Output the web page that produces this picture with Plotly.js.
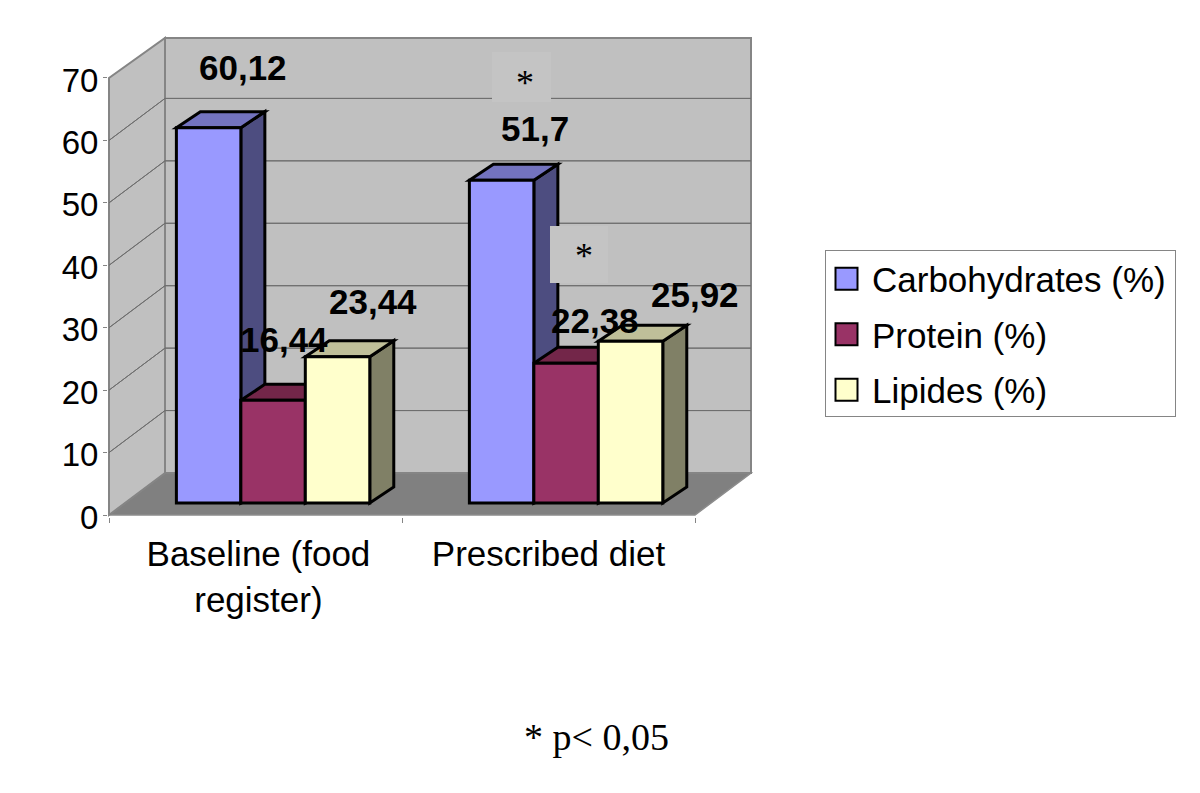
<!DOCTYPE html>
<html><head><meta charset="utf-8">
<script src="https://cdn.plot.ly/plotly-3.0.1.min.js"></script>
<style>html,body{margin:0;padding:0;background:#fff}</style></head>
<body><div id="chart" style="width:1200px;height:793px"></div>
<script>
const categories = ['Baseline (food<br>register)', 'Prescribed diet'];
const carbohydrates = [60.12, 51.7];
const protein = [16.44, 22.38];
const lipides = [23.44, 25.92];
const seriesNames = ['Carbohydrates (%)', 'Protein (%)', 'Lipides (%)'];
const labelTexts = [['60,12', '51,7'], ['16,44', '22,38'], ['23,44', '25,92']];
const yTicks = [0, 10, 20, 30, 40, 50, 60, 70];

// styles and layout
const frontColors = ['#9999FF', '#993366', '#FFFFCC'];
const topColors = ['#7373BF', '#732649', '#BFBF99'];
const sideColors = ['#4D4D80', '#4D1A33', '#808066'];
const labelShiftX = [[34.5, 33], [10.5, 29], [35, 64]];
const labelShiftY = [[60, 52], [61, 43], [55, 47]];
const pxX = 293, pxY = 6.243;          // pixels per category, pixels per unit
const wallDX = 56 / pxX, wallDY = 42 / pxY;
const floorDX = 0.56 - 0.5, floorDY = 12 / pxY;
const depthDX = 24 / pxX, depthDY = 16 / pxY;
const gap = 0.34, barW = (1 - gap) / 3;
const values = [carbohydrates, protein, lipides];
const nCat = categories.length;
const FONT = '"Liberation Sans", Arial, sans-serif';
const SERIF = '"Liberation Serif", "Times New Roman", serif';
const GREY = '#858585';
const plotL = 108, plotT = 34, plotW = 645, plotH = 483;
const paperX = p => (p - plotL) / plotW, paperY = p => 1 - (p - plotT) / plotH;

const poly = pts => 'M' + pts.map(p => p[0] + ',' + p[1]).join('L') + 'Z';
const shapes = [];
const addPoly = (pts, fill, color, w) => shapes.push({type:'path', xref:'x', yref:'y', layer:'below',
  path: poly(pts), fillcolor: fill, line:{color: color, width: w}});

// walls and floor
const wallTop = 70 + wallDY - 2 / pxY;
addPoly([[0,0],[wallDX,wallDY],[nCat+wallDX,wallDY],[nCat,0]], '#808080', '#8c8c8c', 1.5);
addPoly([[0,0],[wallDX,wallDY],[wallDX,wallTop],[0,70]], '#C0C0C0', GREY, 2);
addPoly([[wallDX,wallDY],[nCat+wallDX,wallDY],[nCat+wallDX,wallTop],[wallDX,wallTop]], '#C0C0C0', GREY, 2);
yTicks.slice(1, -1).forEach(v => {
  addPoly([[0,v],[wallDX,v+wallDY]], 'rgba(0,0,0,0)', '#6e6e6e', 1);
  addPoly([[wallDX,v+wallDY],[nCat+wallDX,v+wallDY]], 'rgba(0,0,0,0)', '#6e6e6e', 1);
});

// 3-D top and side of each bar, computed from its value
const barLeft = (s, c) => c + 0.5 + floorDX + (s - 1.5) * barW;
values.forEach((vals, s) => vals.forEach((v, c) => {
  const l = barLeft(s, c), r = l + barW, t = floorDY + v;
  addPoly([[r,t],[r+depthDX,t+depthDY],[r+depthDX,floorDY+depthDY],[r,floorDY]], sideColors[s], '#000', 3);
  addPoly([[l,t],[r,t],[r+depthDX,t+depthDY],[l+depthDX,t+depthDY]], topColors[s], '#000', 3);
}));

// light boxes behind the significance stars
const addBox = (x0, x1, y0, y1) => shapes.push({type:'rect', xref:'paper', yref:'paper', layer:'above',
  x0: paperX(x0), x1: paperX(x1), y0: paperY(y0), y1: paperY(y1), fillcolor:'#C4C4C4', line:{width:0}});
addBox(492, 551, 52, 102);
addBox(550, 608, 226, 283);

const traces = values.map((vals, s) => ({
  type:'bar', name: seriesNames[s], legendgroup: seriesNames[s],
  x: vals.map((_, c) => c + 0.5 + floorDX), y: vals, base: vals.map(() => floorDY),
  marker:{color: frontColors[s], line:{color:'#000', width:3}},
  hoverinfo:'name+y'
}));

const annotations = [];
values.forEach((vals, s) => vals.forEach((v, c) => annotations.push({
  xref:'x', yref:'y', x: barLeft(s, c) + barW / 2, y: floorDY + v,
  xshift: labelShiftX[s][c], yshift: labelShiftY[s][c], xanchor:'center', yanchor:'middle',
  text: labelTexts[s][c], showarrow:false, font:{family:FONT, size:35, color:'#000', weight:700}
})));
const star = (xp, yp) => ({xref:'paper', yref:'paper', x:paperX(xp), y:paperY(yp),
  xanchor:'center', yanchor:'middle', showarrow:false, text:'*', font:{family:SERIF, size:36, color:'#000'}});
annotations.push(star(524.5, 82.5), star(583.5, 255.5));
annotations.push({xref:'paper', yref:'paper', x:paperX(596.5), y:paperY(737), yanchor:'middle', xanchor:'center',
  showarrow:false, text:'* p&lt; 0,05', font:{family:SERIF, size:38, color:'#000'}});

const layout = {
  width:1200, height:793, autosize:false, paper_bgcolor:'#fff', plot_bgcolor:'rgba(0,0,0,0)',
  margin:{l:plotL, r:1200-plotL-plotW, t:plotT, b:793-plotT-plotH, pad:0},
  barmode:'group', bargap:gap, bargroupgap:0,
  font:{family:FONT, color:'#000'},
  xaxis:{range:[-1/pxX, nCat + wallDX + 2/pxX], showgrid:false, zeroline:false, showline:false,
    tickmode:'array', tickvals:[0.51, 1.5], ticktext: categories, ticks:'', tickangle:0,
    ticklabelstandoff:13, tickfont:{family:FONT, size:35, color:'#000'},
    minor:{tickmode:'array', tickvals:[0,1,2], ticks:'outside', ticklen:5, tickwidth:1, tickcolor:GREY, showgrid:false}},
  yaxis:{range:[-2/pxY, 481/pxY], showgrid:false, zeroline:false, showline:false,
    tickmode:'array', tickvals: yTicks, ticks:'outside', ticklen:4, tickwidth:1, tickcolor:GREY,
    ticklabelstandoff:-2, ticklabelshift:2, tickfont:{family:FONT, size:33, color:'#000'}},
  legend:{x:paperX(825), y:paperY(248.5), xanchor:'left', yanchor:'top', bgcolor:'#fff', bordercolor:GREY, borderwidth:1,
    font:{family:FONT, size:35, color:'#000'}, traceorder:'grouped', tracegroupgap:7, itemwidth:36},
  shapes, annotations, showlegend:true
};
Plotly.newPlot('chart', traces, layout, {displayModeBar:false, staticPlot:true}).then(() => {
  document.querySelectorAll('.legend .legendpoints path').forEach(p => {
    p.setAttribute('d', 'M8.5,11H-13.5V-11H8.5Z');
    p.style.stroke = '#000'; p.style.strokeWidth = '2px';
  });
  const bg = document.querySelector('.legend rect.bg');
  if (bg) { bg.setAttribute('y', '2'); bg.setAttribute('height', '166'); bg.setAttribute('width', '350'); }
});
</script></body></html>
